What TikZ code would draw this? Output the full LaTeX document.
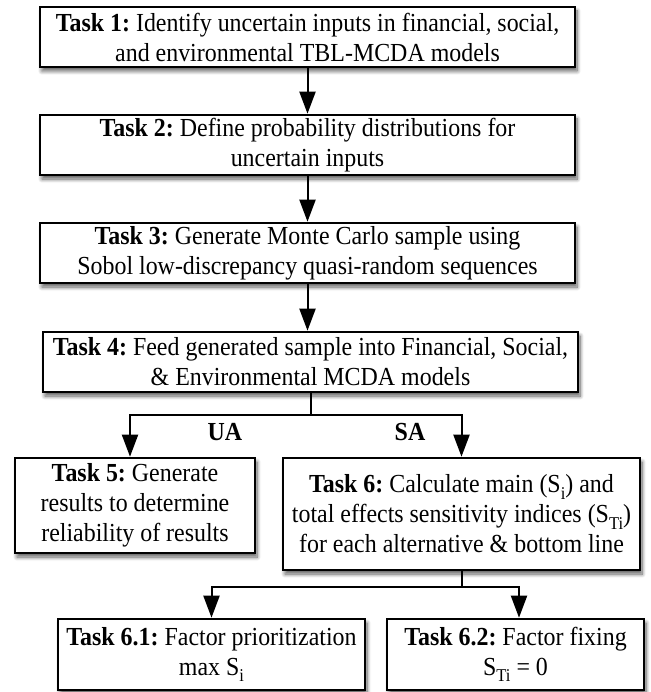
\documentclass[tikz,border=0pt]{standalone}
\usepackage{fontspec}
\setmainfont[FakeStretch=0.92]{Liberation Serif}
\usetikzlibrary{arrows.meta,calc,shadows.blur}

% lowered subscript in the text font
\newcommand{\lsub}[1]{\raisebox{-0.55ex}{\fontsize{18}{18}\selectfont #1}}

\tikzset{
  taskbox/.style={draw=black, line width=2.6pt, fill=white, align=center,
    inner sep=0pt, font=\fontsize{26}{30}\selectfont,
    blur shadow={shadow xshift=2pt, shadow yshift=-4pt, shadow blur radius=4pt,
      shadow blur steps=8, shadow opacity=65}},
  flow/.style={line width=2pt, -{Triangle[length=22pt,width=16pt]}},
  link/.style={line width=2pt},
  branchlabel/.style={font=\fontsize{26}{26}\selectfont\bfseries}
}

\begin{document}
\frenchspacing
\begin{tikzpicture}[x=1pt,y=-1pt]
\useasboundingbox (0,0) rectangle (650,692);

% main chain
\node[taskbox, minimum width=535pt, minimum height=60pt] (t1) at (307.5,37)
  {\textbf{Task 1:} Identify uncertain inputs in financial, social,\\ and environmental TBL-MCDA models};
\node[taskbox, minimum width=535pt, minimum height=60pt] (t2) at (307.5,145)
  {\textbf{Task 2:} Define probability distributions for\\ uncertain inputs};
\node[taskbox, minimum width=535pt, minimum height=60pt] (t3) at (307.5,253)
  {\textbf{Task 3:} Generate Monte Carlo sample using\\ Sobol low-discrepancy quasi-random sequences};
\node[taskbox, minimum width=535pt, minimum height=60pt] (t4) at (310.5,362)
  {\textbf{Task 4:} Feed generated sample into Financial, Social,\\ \& Environmental MCDA models};

% analysis branches
\node[taskbox, minimum width=240pt, minimum height=95pt] (t5) at (135,505.5)
  {\textbf{Task 5:} Generate\\ results to determine\\ reliability of results};
\node[taskbox, minimum width=357pt, minimum height=112pt] (t6) at (461.5,514)
  {\textbf{Task 6:} Calculate main (S\lsub{i}) and\\ total effects sensitivity indices (S\lsub{Ti})\\ for each alternative \& bottom line};

% sensitivity settings
\node[taskbox, minimum width=307pt, minimum height=71pt] (t61) at (211.5,654.5)
  {\textbf{Task 6.1:} Factor prioritization\\ max S\lsub{i}};
\node[taskbox, minimum width=257pt, minimum height=71pt] (t62) at (515.5,654.5)
  {\textbf{Task 6.2:} Factor fixing\\ S\lsub{Ti} = 0};

% connectors
\draw[flow] (t1.south) -- (t2.north);
\draw[flow] (t2.south) -- (t3.north);
\draw[flow] (t3.south) -- (t3.south |- t4.north);

\coordinate (b4) at ($(t4.south)+(0,22)$);
\draw[link] (t4.south) -- (b4);
\draw[flow] (b4) -| ([xshift=-5pt]t5.north);
\draw[flow] (b4) -| (t6.north);
\node[branchlabel] (ua) at (225,432) {UA};
\node[branchlabel] (sa) at (410,432) {SA};

\coordinate (b6) at ($(t6.south)+(0,16)$);
\draw[link] (t6.south) -- (b6);
\draw[flow] (b6) -| (t61.north);
\draw[flow] (b6) -| ([xshift=3.5pt]t62.north);
\end{tikzpicture}
\end{document}
